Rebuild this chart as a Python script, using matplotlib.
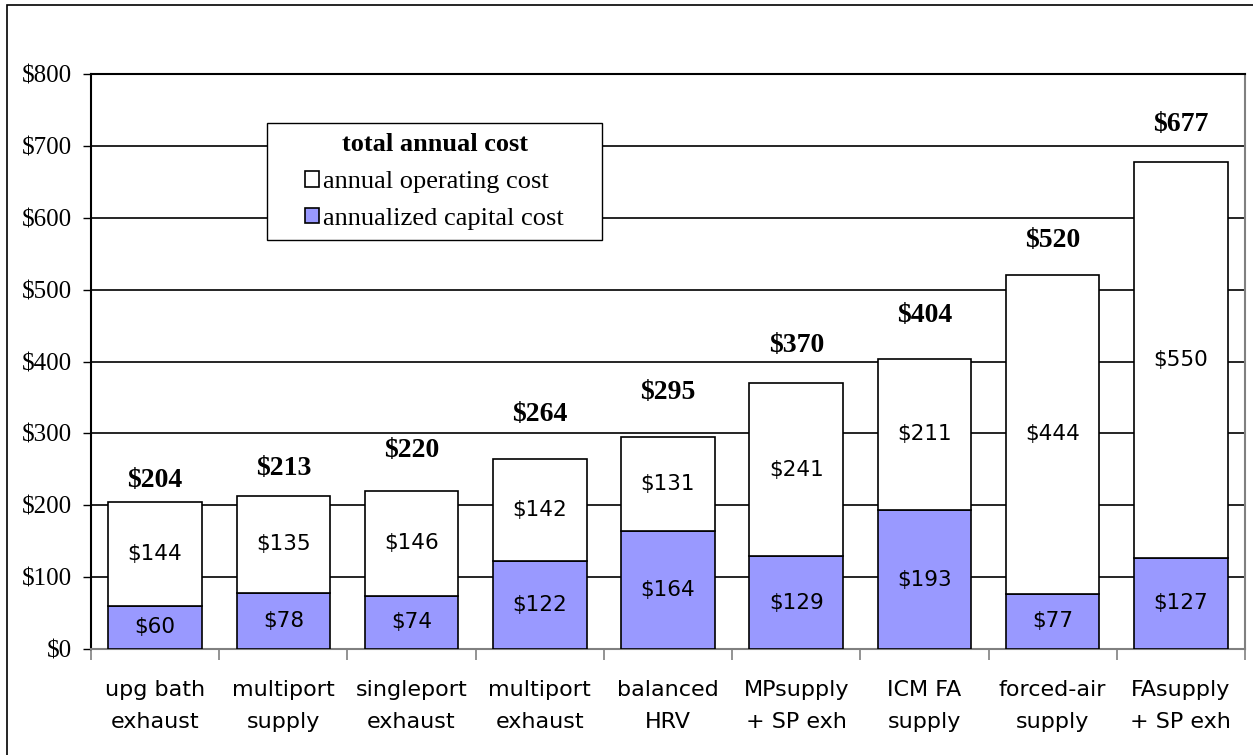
import matplotlib.pyplot as plt
from matplotlib.patches import Rectangle

categories = ['upg bath\nexhaust', 'multiport\nsupply', 'singleport\nexhaust',
              'multiport\nexhaust', 'balanced\nHRV', 'MPsupply\n+ SP exh',
              'ICM FA\nsupply', 'forced-air\nsupply', 'FAsupply\n+ SP exh']
capital = [60, 78, 74, 122, 164, 129, 193, 77, 127]
operating = [144, 135, 146, 142, 131, 241, 211, 444, 550]
totals = [204, 213, 220, 264, 295, 370, 404, 520, 677]
yticks = [0, 100, 200, 300, 400, 500, 600, 700, 800]

# how far (points) each total label sits above its bar
total_offsets = [16, 20, 29, 32, 32, 27, 31, 25, 27]

serif = ['Liberation Serif', 'DejaVu Serif']
sans = ['DejaVu Sans']

fig = plt.figure(figsize=(12.53, 7.55), dpi=100)
ax = fig.add_axes([91 / 1253, 1 - 649 / 755, 1154 / 1253, 575 / 755])

# outer chart frame
fig.patches.append(Rectangle((7 / 1253, -0.1), 1.1, 1 - 5 / 755 + 0.1,
                             transform=fig.transFigure, fill=False,
                             edgecolor='black', linewidth=1.2))

x = list(range(len(categories)))
w = 0.73
ax.bar(x, capital, w, color='#9999ff', edgecolor='black', linewidth=1.2,
       label='annualized capital cost', zorder=3)
ax.bar(x, operating, w, bottom=capital, color='white', edgecolor='black',
       linewidth=1.2, label='annual operating cost', zorder=3)

for i in x:
    ax.text(i, capital[i] / 2, f'${capital[i]}', ha='center', va='center',
            fontsize=15.5, family=sans, zorder=4)
    ax.text(i, capital[i] + operating[i] / 2, f'${operating[i]}', ha='center',
            va='center', fontsize=15.5, family=sans, zorder=4)
    ax.annotate(f'${totals[i]}', (i, totals[i]), xytext=(0, total_offsets[i]),
                textcoords='offset points', ha='center', va='center',
                fontsize=20, fontweight='bold', family=serif)

ax.set_xlim(-0.5, len(categories) - 0.5)
ax.set_ylim(0, 800)
ax.set_yticks(yticks)
ax.set_yticklabels([f'${v}' for v in yticks], family=serif, fontsize=18)
ax.tick_params(axis='y', length=6, width=1, pad=8, color='black')

ax.set_xticks(x)
ax.set_xticklabels(categories, family=sans, fontsize=16, linespacing=1.75)
ax.tick_params(axis='x', which='major', length=0, pad=22)
ax.set_xticks([i - 0.5 for i in range(len(categories) + 1)], minor=True)
ax.tick_params(axis='x', which='minor', length=8, width=1.2, color='#808080')

for v in yticks[1:-1]:
    ax.axhline(v, color='black', linewidth=1.2, zorder=1)

ax.spines['top'].set_color('black')
ax.spines['left'].set_color('black')
ax.spines['right'].set_color('#808080')
ax.spines['bottom'].set_color('#808080')
for s in ax.spines.values():
    s.set_linewidth(1.5)

# legend box drawn separately so it can be wider than its entries
lx0, lx1 = (267 - 91) / 1154, (602 - 91) / 1154
ly0, ly1 = (649 - 240) / 575, (649 - 123) / 575
ax.add_patch(Rectangle((lx0, ly0), lx1 - lx0, ly1 - ly0, transform=ax.transAxes,
                       facecolor='white', edgecolor='black', linewidth=1.0,
                       zorder=5))
handles, labels = ax.get_legend_handles_labels()
leg = ax.legend(handles[::-1], labels[::-1], title='total annual cost',
                loc='center', bbox_to_anchor=((lx0 + lx1) / 2, (ly0 + ly1) / 2),
                prop={'family': serif, 'size': 19},
                title_fontproperties={'family': serif, 'size': 19, 'weight': 'bold'},
                frameon=False, handlelength=0.55, handleheight=0.55,
                handletextpad=0.15, borderpad=0.1, labelspacing=0.55)
leg.set_zorder(6)

fig.savefig('out.png', dpi=100)
